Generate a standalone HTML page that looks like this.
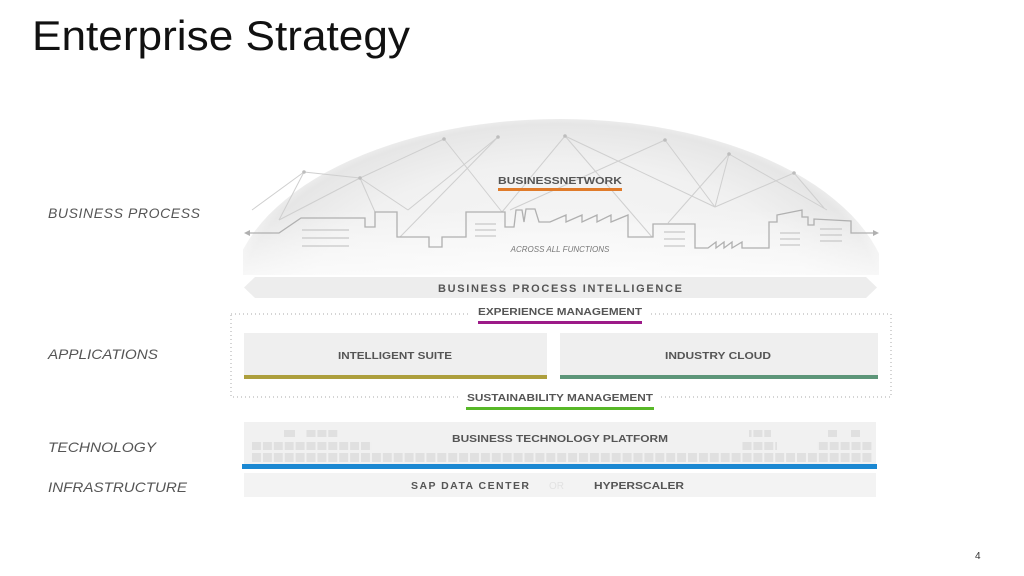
<!DOCTYPE html>
<html><head><meta charset="utf-8"><style>
html,body{margin:0;padding:0;background:#fff;}
svg{display:block;font-family:"Liberation Sans",sans-serif;}
</style></head><body>
<svg width="1024" height="576" viewBox="0 0 1024 576" xmlns="http://www.w3.org/2000/svg">
<defs>
<radialGradient id="dome" cx="560" cy="300" r="330" gradientUnits="userSpaceOnUse" gradientTransform="translate(560 300) scale(1 0.55) translate(-560 -300)">
<stop offset="0" stop-color="#f8f8f8"/><stop offset="0.75" stop-color="#f1f1f1"/><stop offset="0.97" stop-color="#e6e6e6"/><stop offset="1" stop-color="#ececec"/>
</radialGradient>
<linearGradient id="fade" x1="0" y1="0" x2="0" y2="1">
<stop offset="0" stop-color="#fff" stop-opacity="0"/><stop offset="0.6" stop-color="#fff" stop-opacity="0"/><stop offset="1" stop-color="#fff" stop-opacity="0.7"/>
</linearGradient>
<clipPath id="dc"><rect x="243" y="110" width="636" height="165"/></clipPath>
<pattern id="blk" x="252" y="0" width="10.9" height="600" patternUnits="userSpaceOnUse">
<rect x="0" y="0" width="9" height="600" fill="#e0e0e0"/>
</pattern>
</defs>
<text x="32" y="50" font-size="42" fill="#111" textLength="378" lengthAdjust="spacingAndGlyphs">Enterprise Strategy</text>

<g clip-path="url(#dc)">
<ellipse cx="560" cy="300" rx="330" ry="181" fill="url(#dome)"/>
<rect x="243" y="110" width="636" height="165" fill="url(#fade)"/>
</g>
<g stroke="#cfcfcf" stroke-width="1" fill="none">
<line x1="252" y1="210" x2="304" y2="172"/><line x1="279" y1="220" x2="304" y2="172"/>
<line x1="304" y1="172" x2="360" y2="178"/><line x1="279" y1="220" x2="360" y2="178"/>
<line x1="360" y1="178" x2="408" y2="210"/><line x1="360" y1="178" x2="375" y2="212"/>
<line x1="360" y1="178" x2="444" y2="139"/><line x1="444" y1="139" x2="502" y2="212"/>
<line x1="498" y1="137" x2="400" y2="237"/><line x1="498" y1="137" x2="408" y2="210"/>
<line x1="565" y1="136" x2="502" y2="212"/><line x1="565" y1="136" x2="652" y2="237"/>
<line x1="565" y1="136" x2="715" y2="207"/><line x1="665" y1="140" x2="715" y2="207"/>
<line x1="665" y1="140" x2="510" y2="210"/><line x1="729" y1="154" x2="668" y2="223"/>
<line x1="729" y1="154" x2="715" y2="207"/><line x1="729" y1="154" x2="827" y2="210"/>
<line x1="794" y1="173" x2="715" y2="207"/><line x1="794" y1="173" x2="824" y2="208"/>
</g>
<g fill="#bdbdbd">
<circle cx="304" cy="172" r="1.8"/><circle cx="360" cy="178" r="1.8"/><circle cx="444" cy="139" r="1.8"/>
<circle cx="498" cy="137" r="1.8"/><circle cx="565" cy="136" r="1.8"/><circle cx="665" cy="140" r="1.8"/>
<circle cx="729" cy="154" r="1.8"/><circle cx="794" cy="173" r="1.8"/>
</g>
<polyline fill="none" stroke="#b0b0b0" stroke-width="1.3" points="247,233 279,233 301,218 365,218 365,227 375,227 375,212 397,212 397,237 429,237 429,247 442,247 442,237 466,237 466,212 505,212 505,227 514,227 516,210 522,210 524,222 526,209 535,209 539,222 550,222 566,215 566,222 582,215 582,222 597,215 597,222 611,215 611,222 628,215 628,237 653,237 653,224 695,224 695,248 708,248 716,242 716,248 724,242 724,248 732,242 732,248 742,242 742,248 769,248 769,222 777,222 777,215 802,210 802,217 808,217 808,225 814,225 814,219 851,221 851,233 876,233"/>
<path d="M244,233 l6,-3 v6 z M879,233 l-6,-3 v6 z" fill="#b0b0b0"/>
<g stroke="#c8c8c8" stroke-width="1.3">
<line x1="302" y1="230" x2="349" y2="230"/><line x1="302" y1="238" x2="349" y2="238"/><line x1="302" y1="246" x2="349" y2="246"/>
<line x1="475" y1="224" x2="496" y2="224"/><line x1="475" y1="230" x2="496" y2="230"/><line x1="475" y1="236" x2="496" y2="236"/>
<line x1="664" y1="232" x2="685" y2="232"/><line x1="664" y1="239" x2="685" y2="239"/><line x1="664" y1="246" x2="685" y2="246"/>
<line x1="780" y1="233" x2="800" y2="233"/><line x1="780" y1="239" x2="800" y2="239"/><line x1="780" y1="245" x2="800" y2="245"/>
<line x1="820" y1="229" x2="842" y2="229"/><line x1="820" y1="235" x2="842" y2="235"/><line x1="820" y1="241" x2="842" y2="241"/>
</g>
<text x="560" y="252" font-size="8" font-style="italic" fill="#777" text-anchor="middle">ACROSS ALL FUNCTIONS</text>
<text x="560" y="184" font-size="10.5" font-weight="bold" fill="#555" text-anchor="middle" textLength="124" lengthAdjust="spacingAndGlyphs">BUSINESSNETWORK</text>
<rect x="498" y="188" width="124" height="3" fill="#e07b2a"/>

<path d="M255,277 H866 L877,287.5 L866,298 H255 L244,287.5 Z" fill="#ededed"/>
<text x="560" y="292" font-size="11" font-weight="bold" fill="#555" text-anchor="middle" textLength="244" lengthAdjust="spacing">BUSINESS PROCESS INTELLIGENCE</text>

<rect x="231" y="314" width="660" height="83" fill="none" stroke="#aaa" stroke-width="1" stroke-dasharray="1,3"/>
<rect x="470" y="305" width="180" height="14" fill="#fff"/>
<text x="560" y="315" font-size="10.5" font-weight="bold" fill="#555" text-anchor="middle" textLength="164" lengthAdjust="spacingAndGlyphs">EXPERIENCE MANAGEMENT</text>
<rect x="478" y="321" width="164" height="3" fill="#9c1a88"/>
<rect x="244" y="333" width="303" height="43" fill="#efefef"/>
<rect x="244" y="375" width="303" height="4" fill="#ad9f3d"/>
<text x="395" y="359" font-size="10.5" font-weight="bold" fill="#555" text-anchor="middle" textLength="114" lengthAdjust="spacingAndGlyphs">INTELLIGENT SUITE</text>
<rect x="560" y="333" width="318" height="43" fill="#efefef"/>
<rect x="560" y="375" width="318" height="4" fill="#5d9679"/>
<text x="718" y="359" font-size="10.5" font-weight="bold" fill="#555" text-anchor="middle" textLength="106" lengthAdjust="spacingAndGlyphs">INDUSTRY CLOUD</text>
<rect x="460" y="391" width="200" height="12" fill="#fff"/>
<text x="560" y="401" font-size="10.5" font-weight="bold" fill="#555" text-anchor="middle" textLength="186" lengthAdjust="spacingAndGlyphs">SUSTAINABILITY MANAGEMENT</text>
<rect x="466" y="407" width="188" height="3" fill="#58b828"/>

<rect x="244" y="422" width="632" height="43" fill="#f1f1f1"/>
<rect x="252" y="453" width="620" height="9" fill="url(#blk)"/>
<rect x="252" y="442" width="120" height="8" fill="url(#blk)"/>
<rect x="284" y="430" width="11" height="7" fill="#e0e0e0"/>
<rect x="306" y="430" width="32" height="7" fill="url(#blk)"/>
<rect x="741" y="442" width="36" height="8" fill="url(#blk)"/>
<rect x="749" y="430" width="22" height="7" fill="url(#blk)"/>
<rect x="817" y="442" width="55" height="8" fill="url(#blk)"/>
<rect x="828" y="430" width="9" height="7" fill="#e0e0e0"/>
<rect x="851" y="430" width="9" height="7" fill="#e0e0e0"/>
<rect x="440" y="430" width="240" height="18" fill="#f1f1f1"/>
<text x="560" y="442" font-size="10.5" font-weight="bold" fill="#555" text-anchor="middle" textLength="216" lengthAdjust="spacingAndGlyphs">BUSINESS TECHNOLOGY PLATFORM</text>
<rect x="242" y="464" width="635" height="5" fill="#1b88d2"/>
<rect x="244" y="473" width="632" height="24" fill="#f3f3f3"/>
<text x="411" y="489" font-size="10.5" font-weight="bold" fill="#555" textLength="118" lengthAdjust="spacing">SAP DATA CENTER</text>
<text x="549" y="489" font-size="10" fill="#e2e2e2">OR</text>
<text x="594" y="489" font-size="10.5" font-weight="bold" fill="#555" textLength="90" lengthAdjust="spacingAndGlyphs">HYPERSCALER</text>

<g font-size="14" font-style="italic" fill="#555">
<text x="48" y="218" textLength="152" lengthAdjust="spacing">BUSINESS PROCESS</text>
<text x="48" y="359" textLength="110" lengthAdjust="spacingAndGlyphs">APPLICATIONS</text>
<text x="48" y="452" textLength="108" lengthAdjust="spacingAndGlyphs">TECHNOLOGY</text>
<text x="48" y="492" textLength="139" lengthAdjust="spacingAndGlyphs">INFRASTRUCTURE</text>
</g>
<text x="975" y="559" font-size="10" fill="#333">4</text>
</svg>
</body></html>
